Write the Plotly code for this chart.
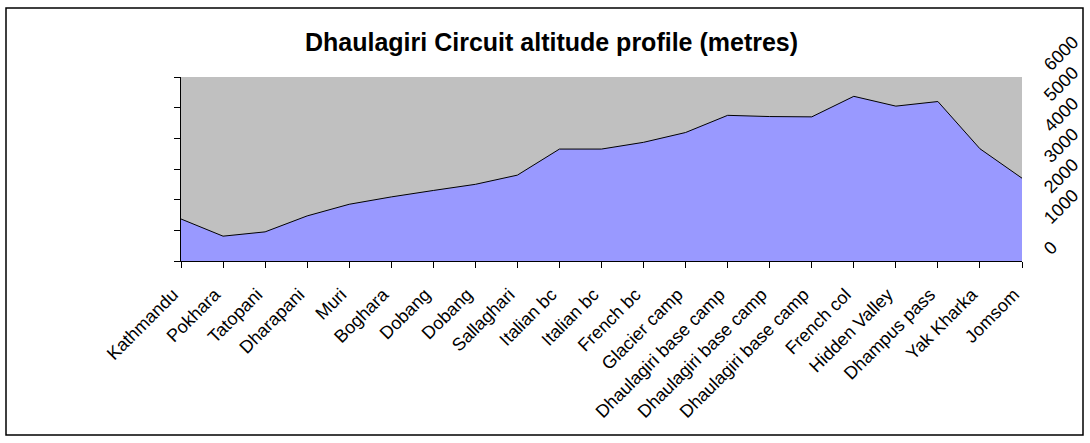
import plotly.graph_objects as go

stops = ["Kathmandu", "Pokhara", "Tatopani", "Dharapani", "Muri", "Boghara",
         "Dobang", "Dobang", "Sallaghari", "Italian bc", "Italian bc", "French bc",
         "Glacier camp", "Dhaulagiri base camp", "Dhaulagiri base camp",
         "Dhaulagiri base camp", "French col", "Hidden Valley", "Dhampus pass",
         "Yak Kharka", "Jomsom"]
altitudes = [1370, 810, 950, 1470, 1850, 2090, 2300, 2500, 2800, 3650, 3650,
             3870, 4190, 4750, 4710, 4700, 5370, 5050, 5200, 3660, 2700]
alt_ticks = [0, 1000, 2000, 3000, 4000, 5000, 6000]
alt_labels = ["0", "1000", "2000", "3000", "4000", "5000", "6000"]

x_idx = list(range(len(stops)))
FONT = "Liberation Sans, Arial, sans-serif"

fig = go.Figure()
fig.add_trace(go.Scatter(
    x=x_idx, y=altitudes, mode="lines", fill="tozeroy",
    fillcolor="#9999FF", line=dict(color="black", width=1),
    showlegend=False, hoverinfo="skip"))
fig.add_trace(go.Scatter(
    x=[0], y=[0], yaxis="y2", mode="markers", opacity=0,
    showlegend=False, hoverinfo="skip"))

fig.update_layout(
    width=1090, height=443,
    margin=dict(l=181, r=68, t=77, b=182, autoexpand=False),
    paper_bgcolor="white", plot_bgcolor="#C0C0C0",
    font=dict(family=FONT, size=18, color="black"),
    title=dict(text="<b>Dhaulagiri Circuit altitude profile (metres)</b>",
               x=0.506, xanchor="center", y=0.905, yanchor="middle",
               font=dict(family=FONT, size=25, color="black")),
    xaxis=dict(range=[0, 20], tickmode="array", tickvals=x_idx, ticktext=stops,
               tickangle=-45, ticks="outside", ticklen=6, tickcolor="black",
               showline=True, linecolor="black", linewidth=1,
               showgrid=False, zeroline=False, automargin=False,
               ticklabelstandoff=9, ticklabelshift=-8,
               tickfont=dict(family=FONT, size=18, color="black")),
    yaxis=dict(range=[0, 6000], tickmode="array", tickvals=alt_ticks,
               showticklabels=False, ticks="outside", ticklen=6, tickcolor="black",
               showline=True, linecolor="black", linewidth=1,
               showgrid=False, zeroline=False, automargin=False),
    yaxis2=dict(range=[0, 6000], overlaying="y", side="right",
                tickmode="array", tickvals=alt_ticks, ticktext=alt_labels,
                tickangle=-45, ticks="", showline=False, showgrid=False,
                zeroline=False, automargin=False,
                ticklabelstandoff=22, ticklabelshift=-9,
                tickfont=dict(family=FONT, size=18, color="black")),
    shapes=[dict(type="rect", xref="paper", yref="paper",
                 x0=(6 - 181) / 841, x1=(1083 - 181) / 841,
                 y0=(261 - 435) / 184, y1=(261 - 8) / 184,
                 line=dict(color="black", width=1.5), fillcolor="rgba(0,0,0,0)",
                 layer="below")],
)

fig.write_html("out.html", config={"displayModeBar": False},
               post_script="document.body.style.margin='0px';"
                           "document.body.style.overflow='hidden';")
